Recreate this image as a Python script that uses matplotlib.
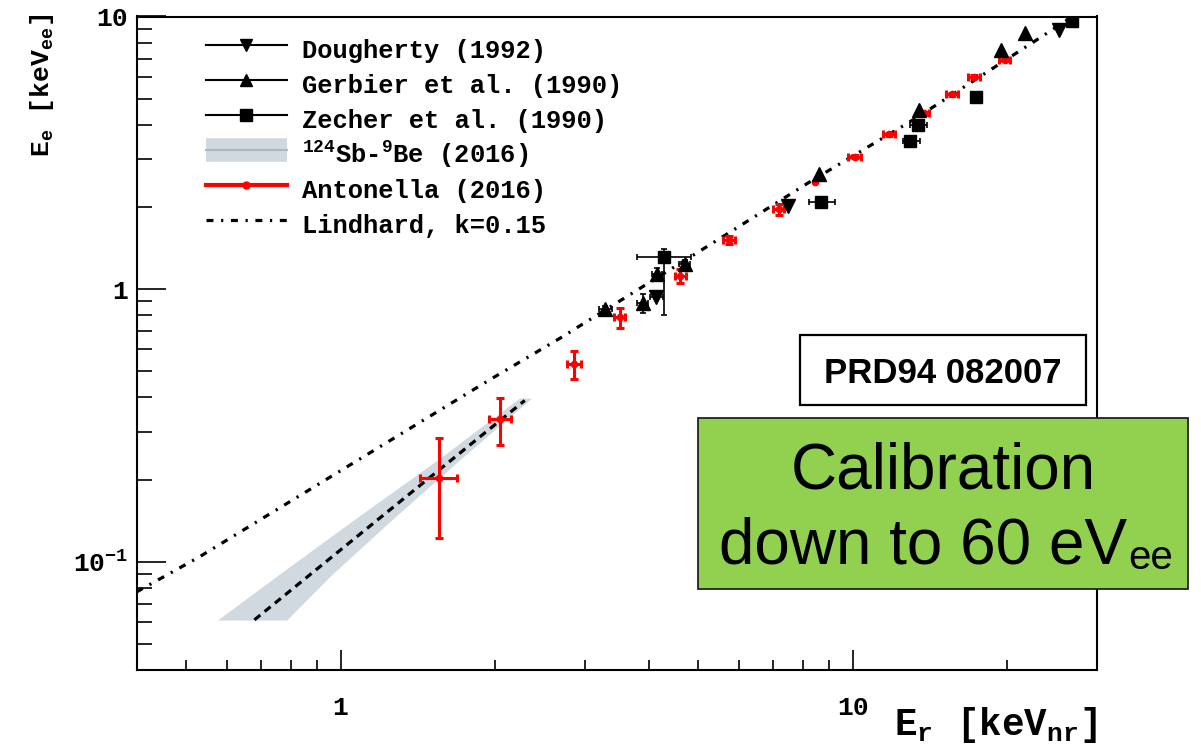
import numpy as np
import matplotlib
matplotlib.use("Agg")
import matplotlib.pyplot as plt
from matplotlib.lines import Line2D
from matplotlib.patches import Rectangle
from matplotlib.ticker import FixedLocator, FixedFormatter, NullFormatter

# --- measurements (E_r in keVnr, E_e in keVee) ---
dougherty_x = [4.14, 7.48, 25.3]
dougherty_y = [0.938, 2.02, 8.92]
dougherty_xerr = [0.12, np.nan, np.nan]
dougherty_yerr = [0.02, np.nan, np.nan]

gerbier_x = [3.29, 3.89, 4.15, 4.70, 8.59, 13.46, 19.52, 21.74]
gerbier_y = [0.843, 0.887, 1.133, 1.236, 2.644, 4.54, 7.54, 8.72]
gerbier_xerr = [0.10, 0.10, 0.10, 0.12, np.nan, np.nan, np.nan, np.nan]
gerbier_yerr = [0.02, 0.07, 0.06, 0.04, np.nan, np.nan, np.nan, np.nan]

zecher_x = [4.29, 8.69, 12.96, 13.41, 17.39, 26.78]
zecher_y = [1.315, 2.093, 3.50, 4.00, 5.08, 9.65]
zecher_xerr_lo = [0.50, 0.47, 0.41, 0.49, np.nan, np.nan]
zecher_xerr_hi = [0.55, 0.53, 0.59, 0.53, np.nan, np.nan]
zecher_yerr_lo = [0.51, np.nan, np.nan, np.nan, np.nan, np.nan]
zecher_yerr_hi = [0.09, np.nan, np.nan, np.nan, np.nan, np.nan]

antonella_x = [1.56, 2.05, 2.86, 3.51, 4.61, 5.73, 7.17, 8.43, 10.09,
               11.78, 13.78, 15.63, 17.26, 19.82]
antonella_y = [0.202, 0.333, 0.530, 0.790, 1.114, 1.514, 1.962, 2.477, 3.06,
               3.70, 4.41, 5.18, 6.02, 6.92]
antonella_xerr = [0.13, 0.10, 0.09, 0.09, 0.11, 0.15, 0.18, np.nan, 0.28,
                  0.31, 0.29, 0.40, 0.50, 0.47]
antonella_yerr_lo = [0.080, 0.065, 0.063, 0.068, 0.064, 0.05, 0.09, np.nan,
                     0.04, 0.05, 0.05, 0.06, 0.07, 0.08]
antonella_yerr_hi = [0.082, 0.065, 0.063, 0.062, 0.068, 0.05, 0.09, np.nan,
                     0.04, 0.05, 0.05, 0.06, 0.07, 0.08]

# 124Sb-9Be photoneutron result: central curve and band
sbbe_x = [0.679, 1.18, 2.29]
sbbe_y = [0.0611, 0.142, 0.39]
band_y = [0.061, 0.088, 0.142, 0.236, 0.398]
band_x_lo = [0.575, 0.748, 1.06, 1.547, 2.236]
band_x_hi = [0.785, 0.952, 1.258, 1.708, 2.36]

# Lindhard curve, k = 0.15
lindhard_x = [0.4, 0.53, 1.95, 2.68, 5.33, 8.24, 13.3, 25.7, 26.8]
lindhard_y = [0.0774, 0.104, 0.463, 0.659, 1.475, 2.47, 4.24, 9.46, 9.95]

plt.rcParams["font.family"] = ["Liberation Mono", "DejaVu Sans"]
plt.rcParams["font.weight"] = "bold"
plt.rcParams["mathtext.fontset"] = "custom"
plt.rcParams["mathtext.rm"] = "Liberation Mono:bold"
plt.rcParams["mathtext.it"] = "Liberation Mono:bold"
plt.rcParams["mathtext.bf"] = "Liberation Mono:bold"
plt.rcParams["mathtext.default"] = "rm"
plt.rcParams["lines.scale_dashes"] = False

W, H = 1201, 751
fig = plt.figure(figsize=(W / 100, H / 100), dpi=100)
ax = fig.add_axes([136.7 / W, 1 - 670 / H, (1097 - 136.7) / W, (670 - 16.5) / H])
ax.set_xscale("log")
ax.set_yscale("log")
ax.set_xlim(0.4, 30)
ax.set_ylim(0.04, 10)

band_color = "#d0d9e0"
lind_ls = (0, (5.0, 5.5, 1.6, 5.5))

ax.fill_betweenx(band_y, band_x_lo, band_x_hi, color=band_color, lw=0, zorder=1)
ax.plot(sbbe_x, sbbe_y, color="k", lw=2.3, ls=(0, (5.5, 4.0)), zorder=2)
ax.plot(lindhard_x, lindhard_y, color="k", lw=2.3, ls=lind_ls, zorder=2)

ax.errorbar(antonella_x, antonella_y, xerr=antonella_xerr,
            yerr=[antonella_yerr_lo, antonella_yerr_hi], fmt="o", color="red",
            ms=4.5, elinewidth=2.2, capsize=2.6, capthick=2.2, zorder=3)
ax.errorbar(dougherty_x, dougherty_y, xerr=dougherty_xerr, yerr=dougherty_yerr,
            fmt="v", color="k", ms=9.5, elinewidth=1.2, capsize=2.5,
            capthick=1.2, zorder=4)
ax.errorbar(gerbier_x, gerbier_y, xerr=gerbier_xerr, yerr=gerbier_yerr,
            fmt="^", color="k", ms=9.5, elinewidth=1.2, capsize=2.5,
            capthick=1.2, zorder=4)
ax.errorbar(zecher_x, zecher_y, xerr=[zecher_xerr_lo, zecher_xerr_hi],
            yerr=[zecher_yerr_lo, zecher_yerr_hi], fmt="s", color="k",
            ms=9.0, elinewidth=1.2, capsize=2.5, capthick=1.2, zorder=4)

# ROOT-like frame and ticks
for side in ax.spines.values():
    side.set_linewidth(1.5)
ax.tick_params(which="both", direction="in", top=False, right=False,
               width=1.2, labelsize=19)
ax.tick_params(axis="y", which="major", length=20.9, pad=6)
ax.tick_params(axis="y", which="minor", length=10.8)
ax.tick_params(axis="x", which="major", length=14.4, pad=19)
ax.tick_params(axis="x", which="minor", length=7.2)
ax.xaxis.set_major_locator(FixedLocator([1, 10]))
ax.xaxis.set_major_formatter(FixedFormatter(["1", "10"]))
ax.xaxis.set_minor_locator(FixedLocator([0.5, 0.6, 0.7, 0.8, 0.9, 2, 3, 4, 5,
                                         6, 7, 8, 9, 20]))
ax.xaxis.set_minor_formatter(NullFormatter())
ax.yaxis.set_major_locator(FixedLocator([0.1, 1, 10]))
ax.yaxis.set_major_formatter(FixedFormatter([r"$10^{-1}$", "1", "10"]))
ax.yaxis.set_minor_locator(FixedLocator([0.05, 0.06, 0.07, 0.08, 0.09, 0.2,
                                         0.3, 0.4, 0.5, 0.6, 0.7, 0.8, 0.9,
                                         2, 3, 4, 5, 6, 7, 8, 9]))
ax.yaxis.set_minor_formatter(NullFormatter())

fig.text(42 / W, 1 - 14 / H, r"E$_{e}$ [keV$_{ee}$]", rotation=90,
         ha="center", va="top", fontsize=19)
fig.text(1097 / W, 1 - 735 / H, r"E$_{r}$ [keV$_{nr}$]", ha="right",
         va="baseline", fontsize=27)

# legend: tall handle boxes keep every row at the same pitch
handles = [
    Line2D([], [], color="k", lw=1.5, marker="v", ms=9),
    Line2D([], [], color="k", lw=1.5, marker="^", ms=9),
    Line2D([], [], color="k", lw=1.5, marker="s", ms=9),
    (Line2D([], [], color=band_color, lw=17, solid_capstyle="butt"),
     Line2D([], [], color="#a9b8c4", lw=1.5)),
    Line2D([], [], color="red", lw=3, marker="o", ms=5),
    Line2D([], [], color="k", lw=2.3, ls=lind_ls),
]
labels = ["Dougherty (1992)", "Gerbier et al. (1990)", "Zecher et al. (1990)",
          r"$^{124}$Sb-$^{9}$Be (2016)", "Antonella (2016)",
          "Lindhard, k=0.15"]
ax.legend(handles, labels, loc="upper left",
          bbox_to_anchor=(206 / W, 1 - 32 / H), bbox_transform=fig.transFigure,
          frameon=False, fontsize=18.4, numpoints=1, handlelength=3.15,
          handleheight=1.73, handletextpad=0.62, labelspacing=0.0,
          borderpad=0, borderaxespad=0)

# annotation boxes
fig.add_artist(Rectangle((800 / W, 1 - 405 / H), 286 / W, 70 / H,
                         transform=fig.transFigure, facecolor="white",
                         edgecolor="k", lw=1.6, zorder=5))
fig.text(943 / W, 1 - 383.5 / H, "PRD94 082007", ha="center", va="baseline",
         fontsize=25, family="Liberation Sans", weight="bold", zorder=6)

fig.add_artist(Rectangle((698.3 / W, 1 - 589.3 / H), 490 / W, 171.6 / H,
                         transform=fig.transFigure, facecolor="#92d050",
                         edgecolor="#222222", lw=1.3, zorder=5))
fig.text(943 / W, 1 - 488 / H, "Calibration", ha="center", va="baseline",
         fontsize=46, family="Liberation Sans", weight="normal", zorder=6)
fig.text(1127 / W, 1 - 563 / H, "down to 60 eV", ha="right", va="baseline",
         fontsize=46, family="Liberation Sans", weight="normal", zorder=6)
fig.text(1128 / W, 1 - 569 / H, "ee", ha="left", va="baseline",
         fontsize=29, family="Liberation Sans", weight="normal", zorder=6)

fig.savefig("out.png", dpi=100)
